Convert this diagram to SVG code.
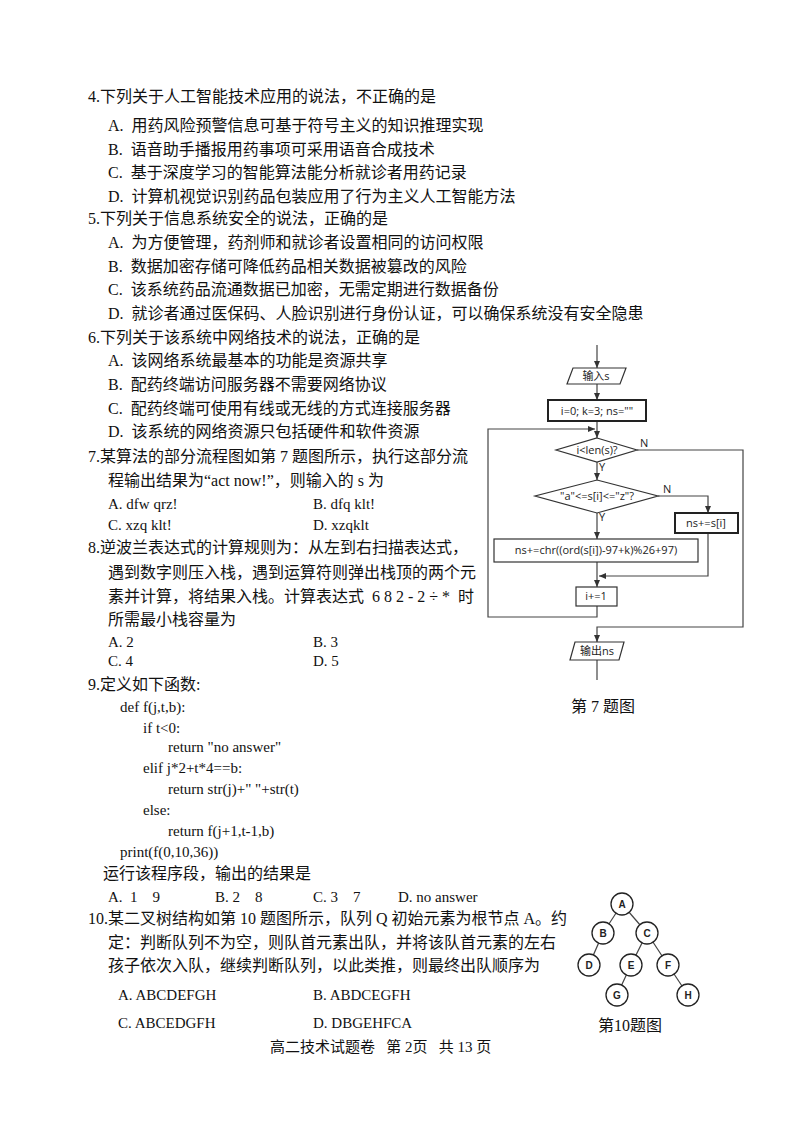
<svg xmlns="http://www.w3.org/2000/svg" width="800" height="1130" viewBox="0 0 800 1130">
<style>
.t{font-family:"Liberation Serif","Noto Sans CJK SC",serif;font-size:16px;fill:#111;white-space:pre}
.e{font-size:15px}
.f{font-family:"Open Sans","Noto Sans CJK SC",sans-serif;font-size:11px;fill:#222}
.s{fill:#fff;stroke:#333;stroke-width:1.2}
.b{fill:#fff;stroke:#222;stroke-width:2}
.l{fill:none;stroke:#444;stroke-width:1.2}
.n{fill:#fff;stroke:#222;stroke-width:1.3}
.nt{font-family:"Liberation Sans",sans-serif;font-size:10px;font-weight:bold;fill:#222;text-anchor:middle}
</style>
<defs><marker id="a" markerWidth="8" markerHeight="8" refX="7" refY="4" orient="auto" markerUnits="userSpaceOnUse"><path d="M0,1 L7,4 L0,7z" fill="#333"/></marker></defs>
<rect width="800" height="1130" fill="#fff"/>
<g id="text">
<text class="t" x="88" y="102">4.下列关于人工智能技术应用的说法，不正确的是</text>
<text class="t" x="108" y="131">A.  用药风险预警信息可基于符号主义的知识推理实现</text>
<text class="t" x="108" y="155">B.  语音助手播报用药事项可采用语音合成技术</text>
<text class="t" x="108" y="178">C.  基于深度学习的智能算法能分析就诊者用药记录</text>
<text class="t" x="108" y="202">D.  计算机视觉识别药品包装应用了行为主义人工智能方法</text>
<text class="t" x="88" y="224">5.下列关于信息系统安全的说法，正确的是</text>
<text class="t" x="108" y="248">A.  为方便管理，药剂师和就诊者设置相同的访问权限</text>
<text class="t" x="108" y="272">B.  数据加密存储可降低药品相关数据被篡改的风险</text>
<text class="t" x="108" y="295">C.  该系统药品流通数据已加密，无需定期进行数据备份</text>
<text class="t" x="108" y="319">D.  就诊者通过医保码、人脸识别进行身份认证，可以确保系统没有安全隐患</text>
<text class="t" x="88" y="343">6.下列关于该系统中网络技术的说法，正确的是</text>
<text class="t" x="108" y="366">A.  该网络系统最基本的功能是资源共享</text>
<text class="t" x="108" y="390">B.  配药终端访问服务器不需要网络协议</text>
<text class="t" x="108" y="414">C.  配药终端可使用有线或无线的方式连接服务器</text>
<text class="t" x="108" y="437">D.  该系统的网络资源只包括硬件和软件资源</text>
<text class="t" x="88" y="462">7.某算法的部分流程图如第 7 题图所示，执行这部分流</text>
<text class="t" x="108" y="486">程输出结果为“act now!”，则输入的 s 为</text>
<text class="t e" x="108" y="509">A. dfw qrz!</text><text class="t e" x="313" y="509">B. dfq klt!</text>
<text class="t e" x="108" y="530">C. xzq klt!</text><text class="t e" x="313" y="530">D. xzqklt</text>
<text class="t" x="88" y="553">8.逆波兰表达式的计算规则为：从左到右扫描表达式，</text>
<text class="t" x="108" y="578">遇到数字则压入栈，遇到运算符则弹出栈顶的两个元</text>
<text class="t" x="108" y="602">素并计算，将结果入栈。计算表达式  6 8 2 - 2 ÷ *  时</text>
<text class="t" x="108" y="625">所需最小栈容量为</text>
<text class="t e" x="108" y="647">A. 2</text><text class="t e" x="313" y="647">B. 3</text>
<text class="t e" x="108" y="666">C. 4</text><text class="t e" x="313" y="666">D. 5</text>
<text class="t" x="88" y="690">9.定义如下函数:</text>
<text class="t e" x="120" y="712">def f(j,t,b):</text>
<text class="t e" x="143" y="733">if t&lt;0:</text>
<text class="t e" x="168" y="752">return "no answer"</text>
<text class="t e" x="143" y="773">elif j*2+t*4==b:</text>
<text class="t e" x="168" y="794">return str(j)+" "+str(t)</text>
<text class="t e" x="143" y="815">else:</text>
<text class="t e" x="168" y="836">return f(j+1,t-1,b)</text>
<text class="t e" x="120" y="857">print(f(0,10,36))</text>
<text class="t" x="103" y="879">运行该程序段，输出的结果是</text>
<text class="t e" x="108" y="902">A.  1    9</text>
<text class="t e" x="215" y="902">B. 2    8</text>
<text class="t e" x="313" y="902">C. 3    7</text>
<text class="t e" x="398" y="902">D. no answer</text>
<text class="t" x="88" y="924">10.某二叉树结构如第 10 题图所示，队列 Q 初始元素为根节点 A。约</text>
<text class="t" x="108" y="948">定：判断队列不为空，则队首元素出队，并将该队首元素的左右</text>
<text class="t" x="108" y="971">孩子依次入队，继续判断队列，以此类推，则最终出队顺序为</text>
<text class="t e" x="118" y="1000">A. ABCDEFGH</text><text class="t e" x="313" y="1000">B. ABDCEGFH</text>
<text class="t e" x="118" y="1028">C. ABCEDGFH</text><text class="t e" x="313" y="1028">D. DBGEHFCA</text>
<text class="t e" x="270" y="1052">高二技术试题卷   第 2页   共 13 页</text>
<text class="t" x="571" y="712">第 7 题图</text>
<text class="t" x="598" y="1031">第10题图</text>
</g>
<g id="connectors">
<path class="l" d="M597,345 V368" marker-end="url(#a)"/>
<path class="l" d="M597,384 V400" marker-end="url(#a)"/>
<path class="l" d="M597,421 V438" marker-end="url(#a)"/>
<path class="l" d="M597,462 V480" marker-end="url(#a)"/>
<path class="l" d="M597,513 V539" marker-end="url(#a)"/>
<path class="l" d="M658,496 H708 V513" marker-end="url(#a)"/>
<path class="l" d="M708,533 V576 H599" marker-end="url(#a)"/>
<path class="l" d="M597,562 V587" marker-end="url(#a)"/>
<path class="l" d="M597,606 V617 H488 V429 H595" marker-end="url(#a)"/>
<path class="l" d="M637,450 H743 V627 H597 V642" marker-end="url(#a)"/>
<path class="l" d="M597,660 V680"/>
<g class="l" stroke="#222">
<path d="M622,904 L603,933"/><path d="M622,904 L647,933"/><path d="M603,933 L589,965"/>
<path d="M647,933 L631,965"/><path d="M647,933 L668,965"/><path d="M631,965 L617,995"/><path d="M668,965 L688,995"/>
</g>
</g>
<g id="input"><path class="s" d="M573,368 H626 L620,384 H567z"/><text class="f" x="596" y="380" text-anchor="middle">输入s</text></g>
<g id="init"><rect class="b" x="548" y="400" width="98" height="21"/><text class="f" x="597" y="415" text-anchor="middle">i=0; k=3; ns=""</text></g>
<g id="cond1"><path class="s" d="M597,438 L637,450 L597,462 L556,450z"/><text class="f" x="597" y="454" text-anchor="middle">i&lt;len(s)?</text>
<text class="f" x="640" y="447">N</text><text class="f" x="599" y="471">Y</text></g>
<g id="cond2"><path class="s" d="M597,480 L658,496 L597,513 L535,496z"/><text class="f" x="597" y="500" text-anchor="middle">"a"&lt;=s[i]&lt;="z"?</text>
<text class="f" x="663" y="493">N</text><text class="f" x="599" y="521">Y</text></g>
<g id="keep"><rect class="b" x="675" y="513" width="63" height="20"/><text class="f" x="706" y="527" text-anchor="middle">ns+=s[i]</text></g>
<g id="shift"><rect class="s" x="494" y="539" width="204" height="23"/><text class="f" x="596" y="554" text-anchor="middle">ns+=chr((ord(s[i])-97+k)%26+97)</text></g>
<g id="inc"><rect class="s" x="576" y="587" width="41" height="19"/><text class="f" x="596" y="600" text-anchor="middle">i+=1</text></g>
<g id="output"><path class="s" d="M575,642 H624 L619,660 H570z"/><text class="f" x="597" y="655" text-anchor="middle">输出ns</text></g>
<g id="tree">
<g id="nA"><circle class="n" cx="622" cy="904" r="11"/><text class="nt" x="622" y="908">A</text></g>
<g id="nB"><circle class="n" cx="603" cy="933" r="11"/><text class="nt" x="603" y="937">B</text></g>
<g id="nC"><circle class="n" cx="647" cy="933" r="11"/><text class="nt" x="647" y="937">C</text></g>
<g id="nD"><circle class="n" cx="589" cy="965" r="11"/><text class="nt" x="589" y="969">D</text></g>
<g id="nE"><circle class="n" cx="631" cy="965" r="11"/><text class="nt" x="631" y="969">E</text></g>
<g id="nF"><circle class="n" cx="668" cy="965" r="11"/><text class="nt" x="668" y="969">F</text></g>
<g id="nG"><circle class="n" cx="617" cy="995" r="11"/><text class="nt" x="617" y="999">G</text></g>
<g id="nH"><circle class="n" cx="688" cy="995" r="11"/><text class="nt" x="688" y="999">H</text></g>
</g>
</svg>
